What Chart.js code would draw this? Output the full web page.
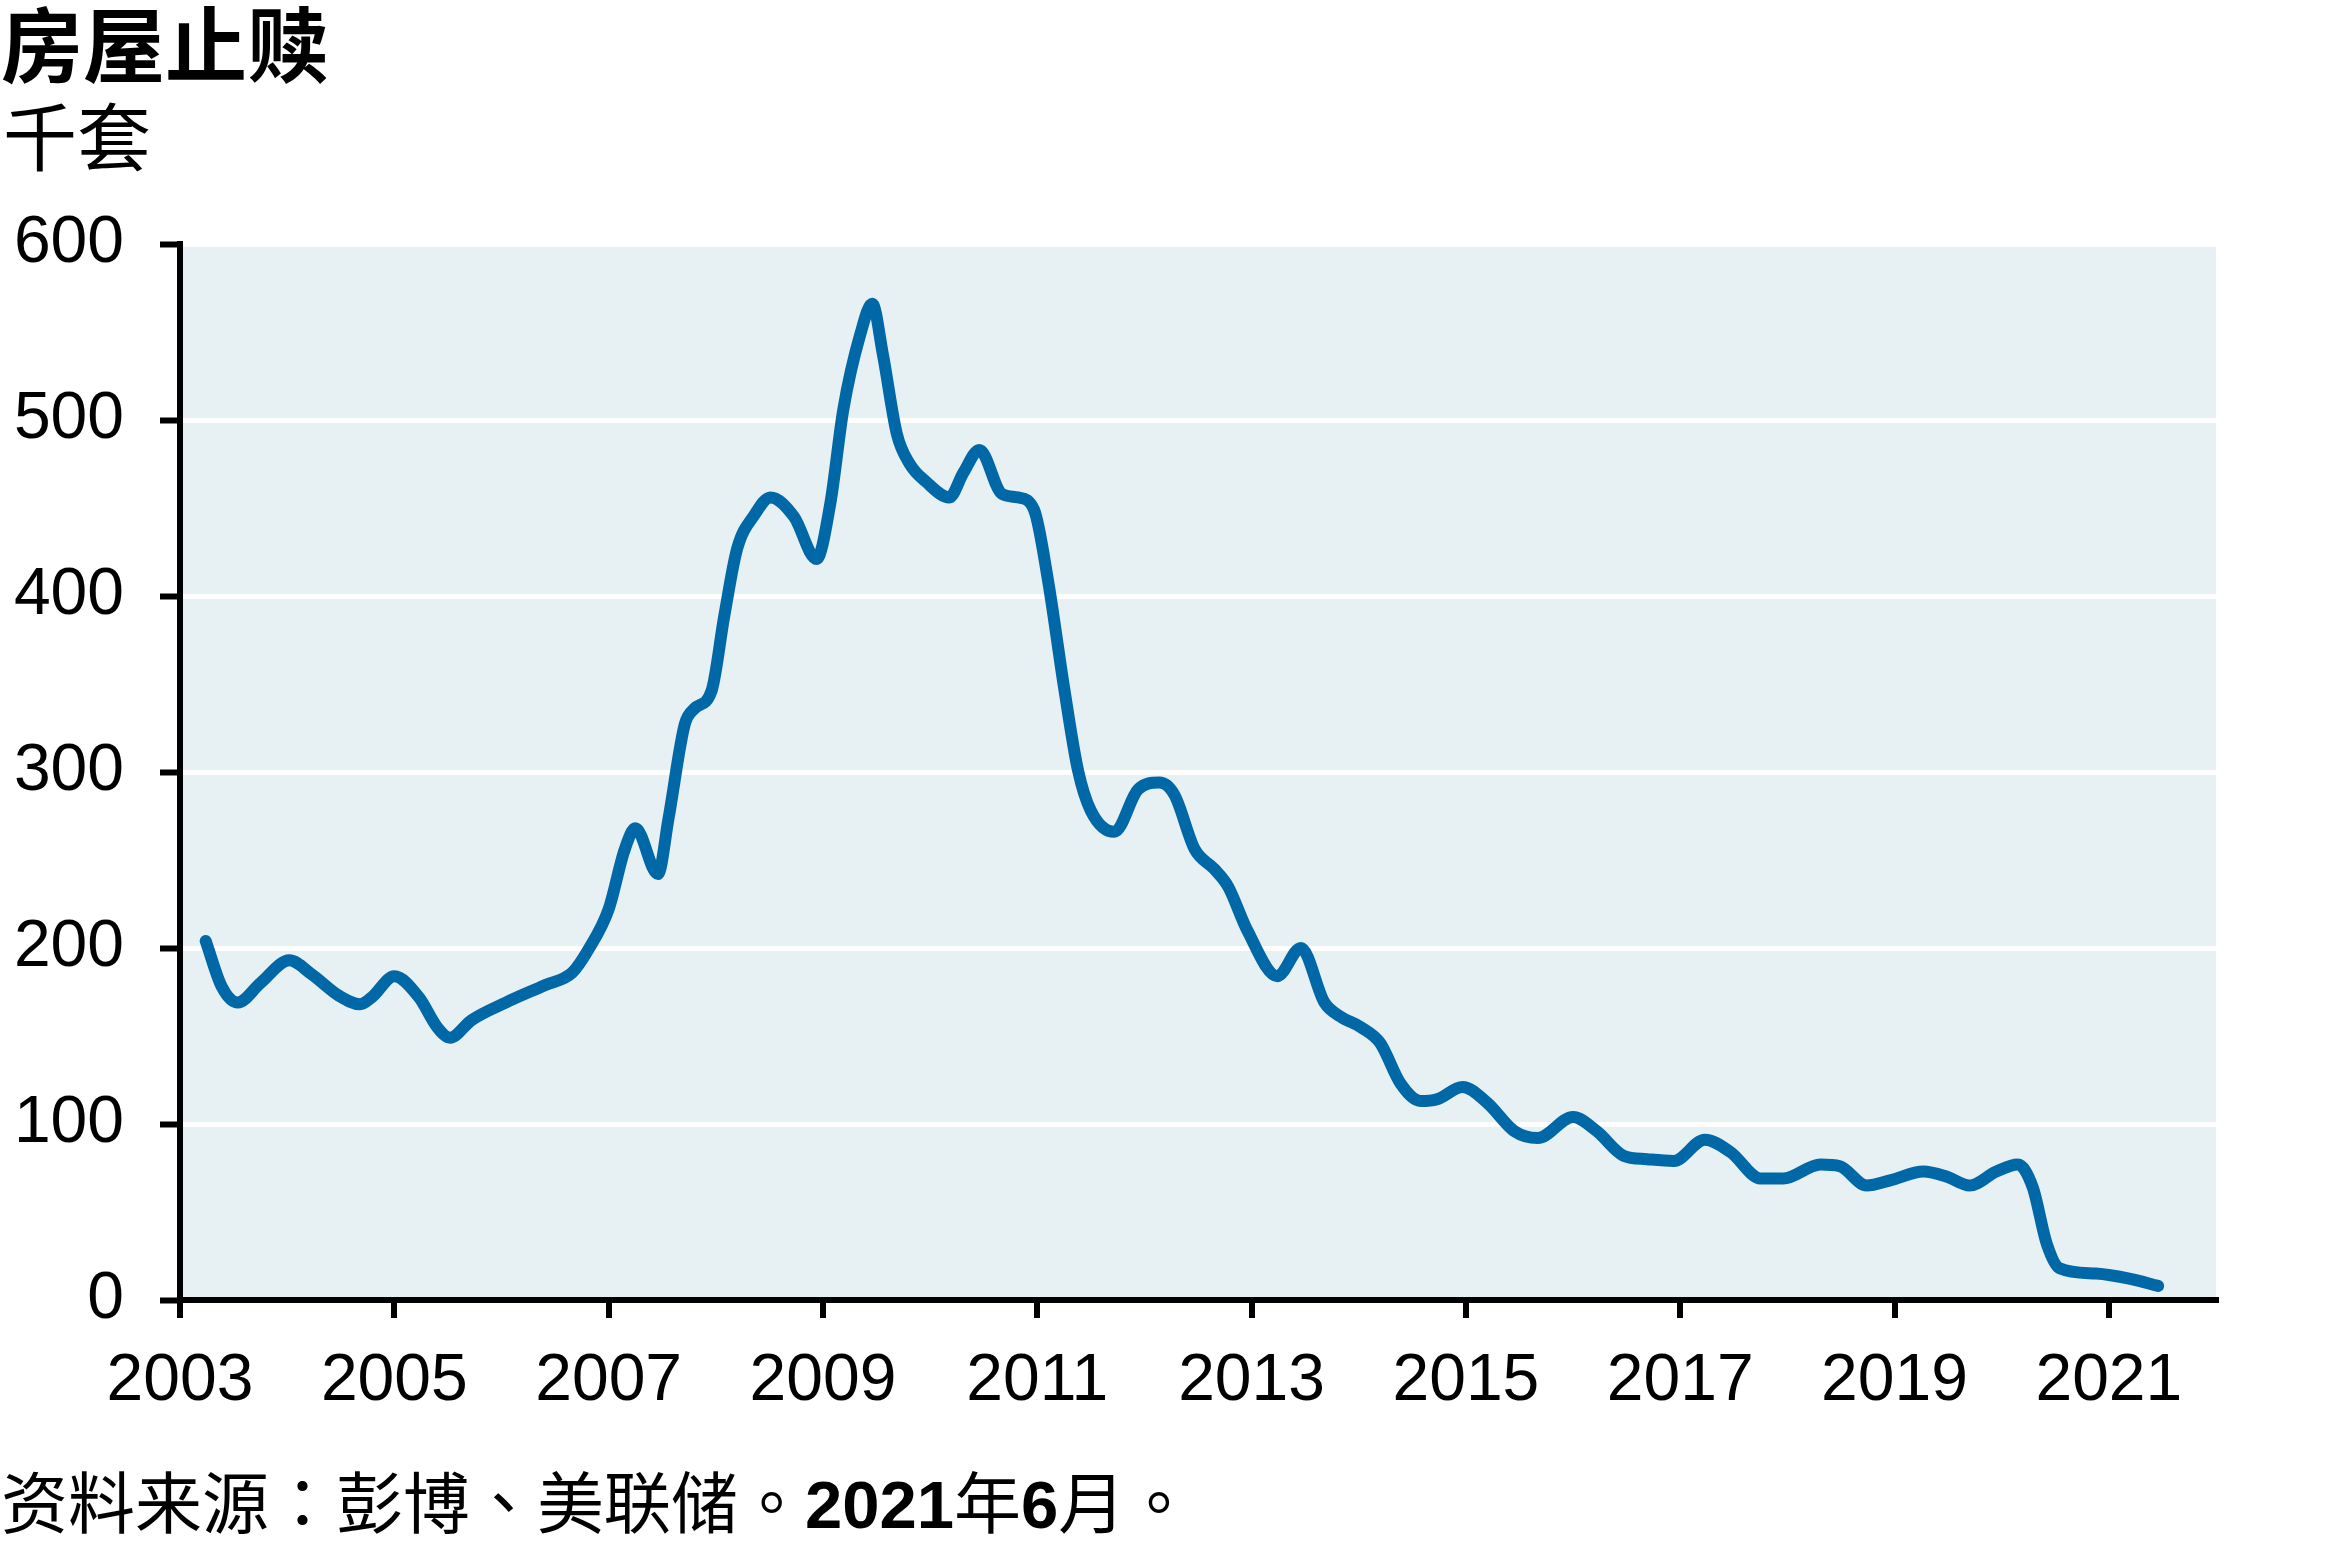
<!DOCTYPE html>
<html>
<head>
<meta charset="utf-8">
<script src="https://cdn.jsdelivr.net/npm/chart.js@4/dist/chart.umd.min.js"></script>
<style>
  html, body { margin: 0; padding: 0; background: #ffffff; }
  #wrap { position: relative; width: 2340px; height: 1561px; overflow: hidden; }
  canvas { position: absolute; left: 0; top: 0; }
  .txt { position: absolute; left: 0; white-space: nowrap; color: #000; line-height: 1; }
  #title { top: 0px; left: 1px; font-family: "Noto Sans CJK SC", sans-serif; font-weight: 700; font-size: 82px; }
  #subtitle { top: 96px; left: 3px; font-family: "Noto Sans CJK SC", sans-serif; font-weight: 400; font-size: 74px; }
  #note { top: 1471px; left: 1px; font-family: "Liberation Sans", "Noto Sans CJK TC", sans-serif; font-size: 67px; }
  #note b { font-weight: 700; }
</style>
</head>
<body>
<div id="wrap">
  <canvas id="c" width="2340" height="1561"></canvas>
  <div class="txt" id="title">房屋止赎</div>
  <div class="txt" id="subtitle">千套</div>
  <div class="txt" id="note">资料来源：彭博、美联储。<b>2021</b>年<b>6</b>月。</div>
</div>
<script>
// ---- data ----
const years = [
  2003.24, 2003.39, 2003.54, 2003.75, 2004.02, 2004.23, 2004.48, 2004.68, 2004.79, 2005.00,
  2005.23, 2005.40, 2005.52, 2005.72, 2006.04, 2006.41, 2006.66, 2006.81, 2007.00, 2007.15,
  2007.25, 2007.46, 2007.56, 2007.71, 2007.80, 2007.96, 2008.08, 2008.20, 2008.36, 2008.51,
  2008.73, 2008.94, 2009.07, 2009.19, 2009.35, 2009.46, 2009.56, 2009.69, 2009.81, 2009.96,
  2010.18, 2010.31, 2010.46, 2010.67, 2010.82, 2010.97, 2011.10, 2011.25, 2011.38, 2011.50,
  2011.72, 2011.94, 2012.14, 2012.28, 2012.47, 2012.65, 2012.78, 2012.96, 2013.24, 2013.46,
  2013.68, 2013.83, 2014.02, 2014.20, 2014.39, 2014.58, 2014.73, 2014.97, 2015.20, 2015.45,
  2015.67, 2016.00, 2016.22, 2016.47, 2016.69, 2016.94, 2017.23, 2017.47, 2017.75, 2017.96,
  2018.31, 2018.49, 2018.74, 2018.96, 2019.27, 2019.49, 2019.70, 2019.95, 2020.15, 2020.29,
  2020.42, 2020.54, 2020.88, 2021.20, 2021.46
];
const foreclosures = [
  204, 178, 169, 180, 193, 185, 173, 168, 172, 184,
  172, 155, 149, 159, 169, 179, 186, 199, 222, 256,
  268, 242, 274, 327, 336, 346, 389, 427, 446, 456,
  445, 421, 453, 506, 549, 566, 537, 492, 475, 465,
  456, 470, 483, 458, 456, 449, 409, 348, 301, 278,
  266, 290, 294, 287, 256, 245, 235, 210, 184, 200,
  169, 161, 155, 146, 123, 113, 114, 121, 112, 96,
  92, 104, 96, 82, 80, 79, 91, 84, 69, 69,
  77, 76, 65, 68, 73, 70, 65, 73, 77, 64,
  32, 18, 15, 12, 8
];
const xTickYears = [2003, 2005, 2007, 2009, 2011, 2013, 2015, 2017, 2019, 2021];
const yTickValues = [0, 100, 200, 300, 400, 500, 600];
const xRange = [2003, 2022];
const yRange = [0, 600];

const points = years.map((y, i) => ({ x: y, y: foreclosures[i] }));

const plotBg = {
  id: 'plotBg',
  beforeDraw(chart) {
    const a = chart.chartArea, ctx = chart.ctx;
    ctx.save();
    ctx.fillStyle = '#e7f0f3';
    ctx.fillRect(a.left, a.top, a.right - a.left, a.bottom - a.top);
    ctx.restore();
  }
};

const FONT = "'Liberation Sans', Arial, sans-serif";

new Chart(document.getElementById('c'), {
  type: 'line',
  data: {
    datasets: [{
      data: points,
      borderColor: '#0068a6',
      borderWidth: 12,
      pointRadius: 0,
      cubicInterpolationMode: 'monotone',
      borderCapStyle: 'round',
      borderJoinStyle: 'round',
      fill: false,
      clip: false
    }]
  },
  options: {
    responsive: false,
    animation: false,
    events: [],
    layout: { padding: { top: 244, right: 124, bottom: 0, left: 0 } },
    plugins: { legend: { display: false }, tooltip: { enabled: false }, title: { display: false } },
    scales: {
      x: {
        type: 'linear',
        min: xRange[0], max: xRange[1],
        afterFit(s) { s.height = 261; },
        afterBuildTicks(s) { s.ticks = xTickYears.map(v => ({ value: v })); },
        border: { display: true, color: '#000', width: 6 },
        grid: { drawOnChartArea: false, drawTicks: true, tickLength: 18, tickColor: '#000', tickWidth: 6, color: '#000', lineWidth: 6 },
        ticks: {
          autoSkip: false, maxRotation: 0, minRotation: 0, padding: 24,
          color: '#000', font: { family: FONT, size: 66 },
          callback: v => String(v)
        }
      },
      y: {
        type: 'linear',
        min: yRange[0], max: yRange[1],
        afterFit(s) { s.width = 180; },
        afterBuildTicks(s) { s.ticks = yTickValues.map(v => ({ value: v })); },
        border: { display: true, color: '#000', width: 6 },
        grid: { drawOnChartArea: true, color: '#ffffff', lineWidth: 5, drawTicks: true, tickLength: 20, tickColor: '#000', tickWidth: 6 },
        ticks: {
          padding: 36, color: '#000', font: { family: FONT, size: 66 },
          callback: v => String(v)
        }
      }
    }
  },
  plugins: [plotBg]
});
</script>
</body>
</html>
